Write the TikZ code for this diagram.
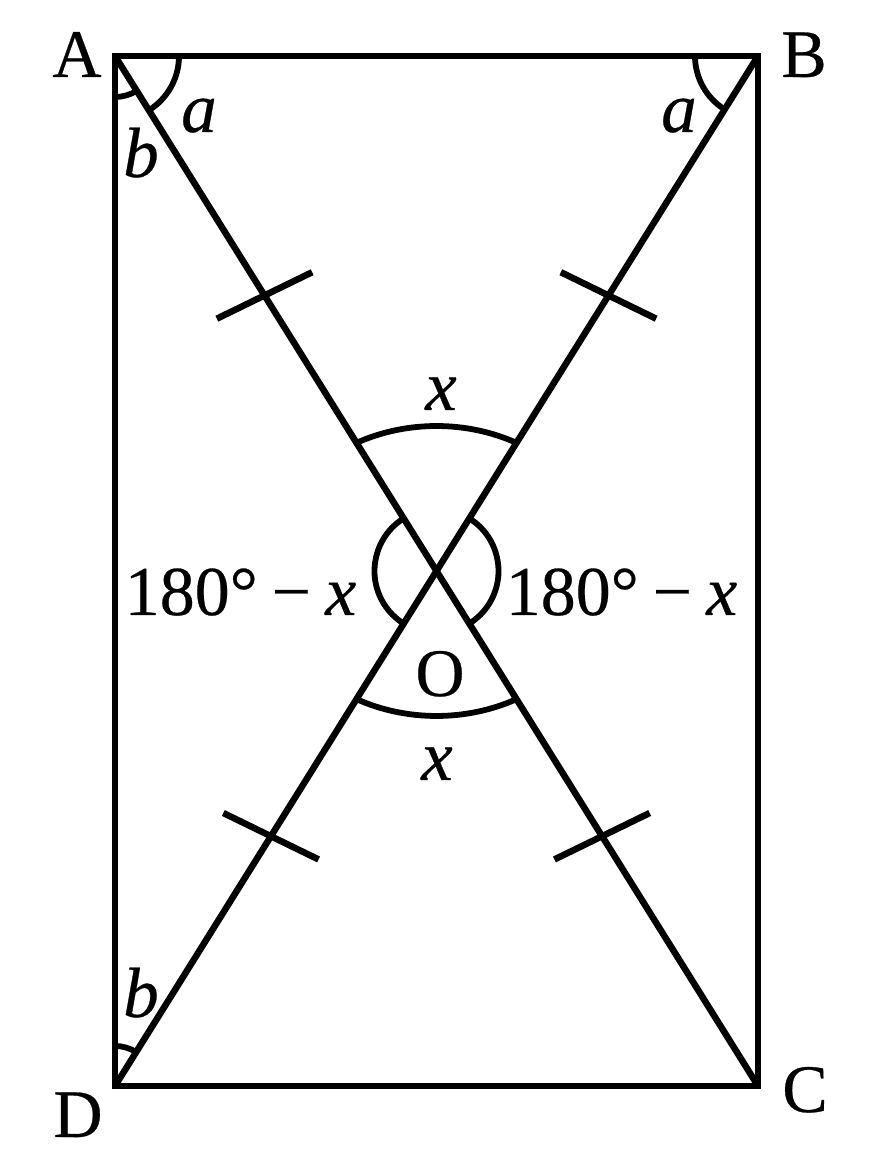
\documentclass[tikz,border=0pt]{standalone}
\usepackage{fontspec}
\setmainfont{Liberation Serif}[FakeBold=0.4,
  UprightFeatures={FakeBold=0.4}, ItalicFeatures={FakeBold=0.4}]
\usetikzlibrary{calc}
\newcommand{\vx}[1]{\textit{#1}}
\begin{document}
\begin{tikzpicture}[x=1pt,y=1pt,
  edge/.style={line width=6.5pt},
  anglearc/.style={line width=5.8pt},
  tickmark/.style={line width=6.5pt},
  vlabel/.style={anchor=base,inner sep=0pt,font=\fontsize{68}{72}\selectfont},
  mlabel/.style={anchor=base,inner sep=0pt,font=\fontsize{71}{74}\selectfont},
  klabel/.style={anchor=base,inner sep=0pt,font=\fontsize{70}{74}\selectfont}]
\useasboundingbox (0,0) rectangle (896,1167);
\coordinate (A) at (115,1111);
\coordinate (B) at (758,1111);
\coordinate (C) at (758,81);
\coordinate (D) at (115,81);
\coordinate (O) at (436.5,596);
% rectangle and diagonals
\draw[edge] (A) -- (B) -- (C) -- (D) -- cycle;
\draw[edge] (A) -- (C);
\draw[edge] (B) -- (D);
% angle arcs at corners
\draw[anglearc] (A) ++(0:64pt) arc[start angle=0,end angle=-58,radius=64pt];
\draw[anglearc] (A) ++(-90:41pt) arc[start angle=-90,end angle=-58,radius=41pt];
\draw[anglearc] (B) ++(180:63pt) arc[start angle=180,end angle=238,radius=63pt];
\draw[anglearc] (D) ++(90:40pt) arc[start angle=90,end angle=58,radius=40pt];
% angle arcs at O
\draw[anglearc] (O) ++(80.3pt,128pt) arc[start angle=62,end angle=118,x radius=171pt,y radius=145pt];
\draw[anglearc] (O) ++(80.3pt,-128pt) arc[start angle=-62,end angle=-118,x radius=171pt,y radius=145pt];
\draw[anglearc] (O) ++(122:62pt) arc[start angle=122,end angle=238,radius=62pt];
\draw[anglearc] (O) ++(58:62pt) arc[start angle=58,end angle=-58,radius=62pt];
% equal-length ticks
\draw[tickmark] ($(A)!0.465!(O)$) ++(206:53pt) -- ++(26:106pt);
\draw[tickmark] ($(B)!0.465!(O)$) ++(154:53pt) -- ++(-26:106pt);
\draw[tickmark] ($(D)!0.485!(O)$) ++(154:53pt) -- ++(-26:106pt);
\draw[tickmark] ($(C)!0.485!(O)$) ++(206:53pt) -- ++(26:106pt);
% vertex labels
\node[vlabel] (lA) at (77,1090) {A};
\node[vlabel] (lB) at (804,1090) {B};
\node[vlabel] (lC) at (805,55) {C};
\node[vlabel] (lD) at (78,30) {D};
\node[vlabel] (lO) at (440,471) {O};
% angle labels
\node[mlabel] (la1) at (199,1035) {\vx{a}};
\node[mlabel] (la2) at (679,1035) {\vx{a}};
\node[mlabel] (lb1) at (141,990) {\vx{b}};
\node[mlabel] (lb2) at (141,150) {\vx{b}};
\node[mlabel] (lx1) at (441,757) {\vx{x}};
\node[mlabel] (lx2) at (437,387) {\vx{x}};
\node[klabel] (lL) at (240.5,552) {180°\hspace{0.2em}−\hspace{0.2em}\vx{x}};
\node[klabel] (lR) at (621.5,552) {180°\hspace{0.2em}−\hspace{0.2em}\vx{x}};
\end{tikzpicture}
\end{document}
